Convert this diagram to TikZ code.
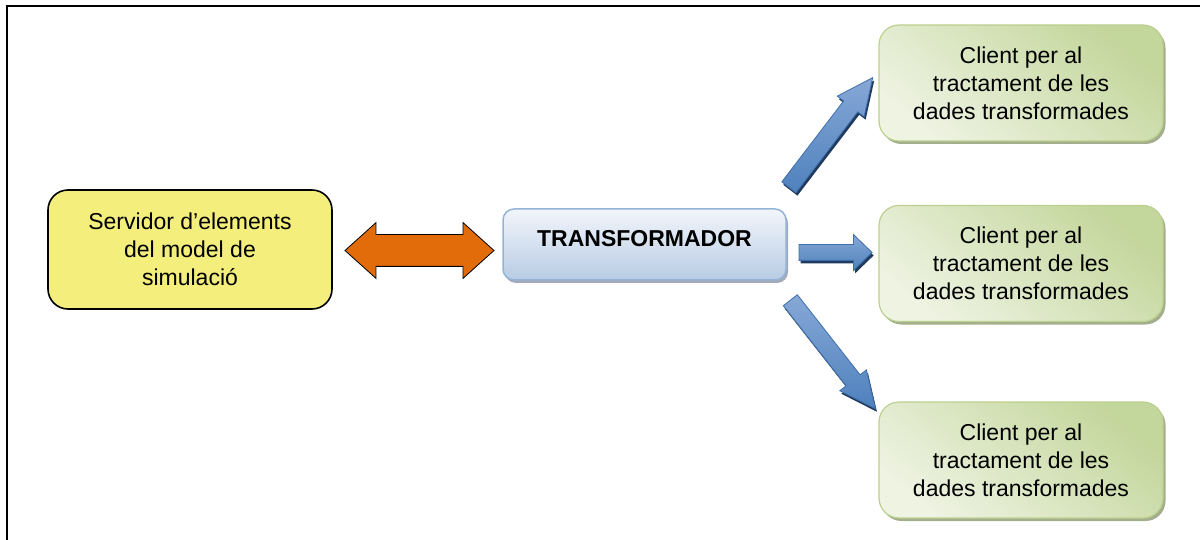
\documentclass[tikz,border=0pt]{standalone}
\usepackage{fontspec}
\setmainfont{Liberation Sans}
\usetikzlibrary{shapes.arrows,shadows}

\definecolor{srvfill}{HTML}{F4EF7C}
\definecolor{orangearrow}{HTML}{E36C0A}
\definecolor{trtop}{HTML}{F2F5FB}
\definecolor{trbottom}{HTML}{B8CCE4}
\definecolor{trborder}{HTML}{95B3D7}
\definecolor{trshadow}{HTML}{A3AAB8}
\definecolor{cltop}{HTML}{C3D69B}
\definecolor{clbottom}{HTML}{EEF3E2}
\definecolor{clborder}{HTML}{BCD08F}
\definecolor{clshadow}{HTML}{A2AE8C}
\definecolor{arrtop}{HTML}{86A8D6}
\definecolor{arrbottom}{HTML}{4F81BD}
\definecolor{arrborder}{HTML}{3F6FAA}
\definecolor{arrshadow}{HTML}{203A5E}

\tikzset{
  txt/.style={font=\fontsize{23}{28}\selectfont, align=center, text=black},
  serverbox/.style={txt, rectangle, rounded corners=20pt, draw=black, line width=1.6pt,
    fill=srvfill, minimum width=284pt, minimum height=119pt, inner sep=0pt},
  transbox/.style={txt, font=\fontsize{23}{28}\selectfont\bfseries, rectangle, rounded corners=11pt,
    draw=trborder, line width=1.5pt, top color=trtop, bottom color=trbottom,
    minimum width=283pt, minimum height=71pt, inner sep=0pt, text depth=13pt,
    drop shadow={shadow xshift=2pt, shadow yshift=-3pt, fill=trshadow, opacity=1}},
  clientbox/.style={txt, rectangle, rounded corners=20pt, draw=clborder, line width=1.2pt,
    top color=cltop, bottom color=clbottom, shading angle=-40,
    minimum width=284pt, minimum height=116pt, inner sep=0pt,
    drop shadow={shadow xshift=2.5pt, shadow yshift=-3pt, fill=clshadow, opacity=1}},
  bluearrow/.style={shape=single arrow, draw=arrborder, line width=0.8pt,
    top color=arrtop, bottom color=arrbottom, single arrow head indent=0pt,
    drop shadow={shadow xshift=1.5pt, shadow yshift=-3pt, fill=arrshadow, opacity=1}},
  bidirarrow/.style={shape=double arrow, draw=black, line width=0.8pt, fill=orangearrow,
    double arrow head indent=0pt}
}

\begin{document}
\begin{tikzpicture}[x=1pt,y=-1pt]
\useasboundingbox (0,0) rectangle (1200,540);

% outer frame: top and left edges only
\draw[line width=2pt] (7,540) -- (7,6) -- (1200,6);

% main blocks
\node[serverbox] (server) at (190,249.5) {Servidor d’elements\\del model de\\simulació};
\node[transbox] (trans) at (644.5,244.5) {TRANSFORMADOR};
\node[clientbox] (client1) at (1021,83) {Client per al\\tractament de les\\dades transformades};
\node[clientbox] (client2) at (1021,263.5) {Client per al\\tractament de les\\dades transformades};
\node[clientbox] (client3) at (1021,460) {Client per al\\tractament de les\\dades transformades};

% two-way link between server and transformer
\node[bidirarrow, minimum height=149pt, minimum width=55pt, inner sep=15.5pt,
      double arrow head extend=12pt, double arrow tip angle=84] (link) at (419.5,250.5) {};

% block arrows from the transformer to the clients
\node[bluearrow, rotate=52.6, minimum height=138pt, minimum width=33pt, inner sep=8.5pt,
      single arrow head extend=8pt, single arrow tip angle=50] (out1) at (825,140) {};
\node[bluearrow, minimum height=73pt, minimum width=35pt, inner sep=7.5pt,
      single arrow head extend=10pt, single arrow tip angle=88] (out2) at (831.5,252.5) {};
\node[bluearrow, rotate=-51.9, minimum height=138pt, minimum width=33pt, inner sep=8.5pt,
      single arrow head extend=8pt, single arrow tip angle=50] (out3) at (827,347) {};
\end{tikzpicture}
\end{document}
